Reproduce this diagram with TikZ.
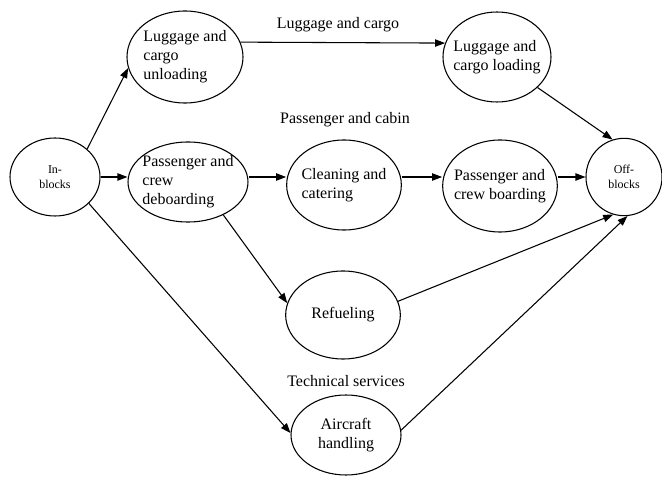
\documentclass[tikz,border=0pt]{standalone}
\usepackage{fontspec}
\setmainfont{Liberation Serif}
\usetikzlibrary{shapes.geometric,arrows.meta}

\begin{document}
\begin{tikzpicture}[x=0.75pt,y=-0.75pt]
  \tikzset{
    stage/.style={ellipse, draw=black, line width=0.8pt, fill=white, inner sep=-14pt, align=left, font=\fontsize{12}{14.3}\selectfont},
    gate/.style={stage, align=center, font=\fontsize{9}{11.2}\selectfont},
    flow/.style={-{Triangle[length=7.5pt,width=5.5pt]}, black, line width=0.8pt},
    phase/.style={font=\fontsize{12}{14.3}\selectfont}
  }
  \useasboundingbox (0,0) rectangle (662,481);

  % Start and end of the turnaround
  \node[gate, minimum width=67.5pt, minimum height=58.5pt] (inb) at (55,177) {In-\\blocks};
  \node[gate, minimum width=57pt, minimum height=58pt] (off) at (624,177) {Off-\\blocks};

  % Ground handling activities
  \node[stage, minimum width=87pt, minimum height=69pt] (unl) at (185,57) {Luggage and\\cargo\\unloading};
  \node[stage, minimum width=81pt, minimum height=67.5pt] (lod) at (497,57) {Luggage and\\cargo loading};
  \node[stage, minimum width=90pt, minimum height=60pt] (deb) at (188,182) {Passenger and\\crew\\deboarding};
  \node[stage, minimum width=86pt, minimum height=67.5pt] (cle) at (344,185) {Cleaning and\\catering};
  \node[stage, minimum width=86pt, minimum height=69pt] (boa) at (500,186) {Passenger and\\crew boarding};
  \node[stage, align=center, minimum width=86pt, minimum height=66pt] (ref) at (343,315) {Refueling};
  \node[stage, align=center, minimum width=82.5pt, minimum height=60pt] (acf) at (346,435) {Aircraft\\handling};

  % Process groups
  \node[phase] (lcargo) at (338,25) {Luggage and cargo};
  \node[phase] (lcabin) at (345,120) {Passenger and cabin};
  \node[phase] (ltech) at (346,381) {Technical services};

  % Flows
  \draw[flow] (inb.41) -- (unl.191);
  \draw[flow] (inb.east) -- (inb.east -| deb.west);
  \draw[flow] (inb.-38) -- (acf.178);
  \draw[flow] (unl.15) -- (lod.165);
  \draw[flow] (deb.east |- inb.east) -- (cle.west |- inb.east);
  \draw[flow] (deb.-43) -- (ref.168);
  \draw[flow] (cle.east |- inb.east) -- (boa.west |- inb.east);
  \draw[flow] (boa.east |- inb.east) -- (off.west);
  \draw[flow] (lod.-37) -- (off.107);
  \draw[flow] (ref.14) -- (off.254);
  \draw[flow] (acf.5) -- (off.275);
\end{tikzpicture}
\end{document}
